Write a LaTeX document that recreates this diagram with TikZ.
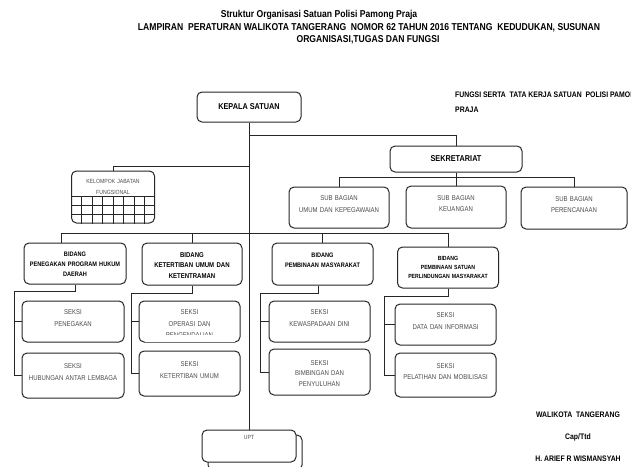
\documentclass[tikz,border=0pt]{standalone}
\usepackage{fontspec}
\setmainfont{Liberation Sans}[FakeStretch=0.86]
\usetikzlibrary{positioning,calc}

\begin{document}
\begin{tikzpicture}[x=1pt, y=-1pt,  % pixel grid, y downwards
  boxline/.style={draw=black!85, line width=1pt},
  link/.style={draw=black!85, line width=1pt},
  head/.style={boxline, rounded corners=5pt, font=\fontsize{8.5}{10}\selectfont\bfseries},
  box/.style={boxline, rounded corners=5pt, align=center, text width=94pt,
    inner xsep=1pt, inner ysep=2pt, text height=6pt, text depth=20pt},
  bidang/.style={box, font=\fontsize{6.5}{10}\selectfont\bfseries},
  seksi/.style={box, text=black!70, font=\fontsize{7}{11.5}\selectfont},
  jabatan/.style={boxline, rounded corners=5pt, align=center, text width=80pt,
    inner xsep=1pt, inner ysep=2pt, text height=5pt, text depth=33pt,
    text=black!70, font=\fontsize{6}{11}\selectfont},
  judul/.style={font=\fontsize{10}{12}\selectfont\bfseries},
  ttd/.style={font=\fontsize{8}{10}\selectfont\bfseries}]

  \path[use as bounding box, fill=white] (0,0) rectangle (631,466);

  % judul
  \node (judul) [judul] at (319,15) {Struktur Organisasi Satuan Polisi Pamong Praja};
  \node (lampiran) [judul] at (369,27.5) {LAMPIRAN~ PERATURAN WALIKOTA TANGERANG~ NOMOR 62 TAHUN 2016 TENTANG~ KEDUDUKAN, SUSUNAN};
  \node (lampiran2) [judul] at (368,40) {ORGANISASI,TUGAS DAN FUNGSI};
  \node (fungsi) [anchor=north west, inner sep=0pt, align=left, font=\fontsize{8}{15}\selectfont\bfseries]
    at (455,92) {FUNGSI SERTA~ TATA KERJA SATUAN~ POLISI PAMONG\\PRAJA};

  % pimpinan dan sekretariat
  \node (kepala) [head, minimum width=104pt, minimum height=30pt] at (249,107) {KEPALA SATUAN};
  \node (sekr) [head, minimum width=132pt, minimum height=26pt] at (456,159) {SEKRETARIAT};
  \node (sumum) [seksi, minimum width=100pt, minimum height=41pt] at (339,207.5) {SUB BAGIAN\\UMUM DAN KEPEGAWAIAN};
  \node (skeu) [seksi, minimum width=100pt, minimum height=42pt] at (456,207) {SUB BAGIAN\\KEUANGAN};
  \node (sren) [seksi, minimum width=106pt, minimum height=42pt] at (574,208) {SUB BAGIAN\\PERENCANAAN};
  \node (kjf) [jabatan, minimum width=83pt, minimum height=52pt] at (113,197) {KELOMPOK JABATAN\\FUNGSIONAL};

  % bidang
  \node (bpen) [bidang, minimum width=102pt, minimum height=41pt] at (75,263.5) {BIDANG\\PENEGAKAN PROGRAM HUKUM\\DAERAH};
  \node (bket) [bidang, minimum width=100pt, minimum height=42pt, font=\fontsize{7}{10.5}\selectfont\bfseries] at (192,264) {BIDANG\\KETERTIBAN UMUM DAN\\KETENTRAMAN};
  \node (bpm) [bidang, minimum width=101pt, minimum height=42pt] at (322.5,264) {BIDANG\\PEMBINAAN MASYARAKAT};
  \node (bpsm) [bidang, minimum width=101pt, minimum height=41pt, font=\fontsize{6}{9}\selectfont\bfseries] at (448,267.5) {BIDANG\\PEMBINAAN SATUAN\\PERLINDUNGAN MASYARAKAT};

  % seksi
  \node (spen) [seksi, minimum width=102pt, minimum height=41pt] at (73,321.5) {SEKSI\\PENEGAKAN};
  \node (shub) [seksi, minimum width=102pt, minimum height=45pt] at (73,375.5) {SEKSI\\HUBUNGAN ANTAR LEMBAGA};
  \node (sops) [seksi, minimum width=101pt, minimum height=41pt] at (189.5,321.5) {SEKSI\\OPERASI DAN\\PENGENDALIAN};
  \node (stib) [seksi, minimum width=101pt, minimum height=45pt] at (189.5,373.5) {SEKSI\\KETERTIBAN UMUM};
  \node (swas) [seksi, minimum width=101pt, minimum height=41pt] at (319.5,321.5) {SEKSI\\KEWASPADAAN DINI};
  \node (sbim) [seksi, minimum width=101pt, minimum height=46pt, font=\fontsize{7}{10.5}\selectfont] at (319.5,372) {SEKSI\\BIMBINGAN DAN\\PENYULUHAN};
  \node (sdat) [seksi, minimum width=101pt, minimum height=41pt] at (445.5,324.5) {SEKSI\\DATA DAN INFORMASI};
  \node (slat) [seksi, minimum width=101pt, minimum height=44pt] at (445.5,375) {SEKSI\\PELATIHAN DAN MOBILISASI};

  \draw[boxline, rounded corners=5pt, fill=white] (208,435) rectangle (302,470); % kotak belakang UPT
  \node (upt) [seksi, text width=80pt, minimum width=94pt, minimum height=32pt, fill=white,
    font=\fontsize{6}{8}\selectfont] at (249,446) {UPT};

  % tabel jabatan fungsional
  \foreach \c in {1,...,7}
    \draw[boxline] ($(kjf.south west)!\c/8!(kjf.south east)$) -- ++(0,-27);
  \foreach \r in {1,2,3}
    \draw[boxline] ($(kjf.south west)+(0,-9*\r)$) -- ($(kjf.south east)+(0,-9*\r)$);

  \fill[white] ([shift={(6pt,1pt)}]sops.south west) rectangle ([shift={(-6pt,8pt)}]sops.south east); % baris terpotong

  % garis
  \draw[link] (kepala.south) -- (upt.north);
  \draw[link] ([yshift=-13pt]kepala.south) -| (sekr.north);
  \draw[link] ([yshift=-44pt]kepala.south) -| (kjf.north);
  \draw[link] (sekr.south) -- (skeu.north);
  \draw[link] (sumum.north) -- ++(0,-9) -| (sren.north);
  \draw[link] ([xshift=-14pt]bpen.north) -- ++(0,-9) -| (bpsm.north);
  \draw[link] (bket.north) -- ++(0,-9);
  \draw[link] (bpm.north) -- ++(0,-9);

  \draw[link] (bpen.south) -- ++(0,7) -| ([xshift=-7pt]shub.west) -- (shub.west);
  \draw[link] ([xshift=-7pt]spen.west) -- (spen.west);
  \draw[link] (bket.south) -- ++(0,8) -| ([xshift=-7pt]stib.west) -- (stib.west);
  \draw[link] ([xshift=-7pt]sops.west) -- (sops.west);
  \draw[link] ([xshift=-4pt]bpm.south) -- ++(0,8) -| ([xshift=-8pt]sbim.west) -- (sbim.west);
  \draw[link] ([xshift=-8pt]swas.west) -- (swas.west);
  \draw[link] (bpsm.south) -- ++(0,8) -| ([xshift=-10pt]slat.west) -- (slat.west);
  \draw[link] ([xshift=-10pt]sdat.west) -- (sdat.west);

  % pengesahan
  \node (walikota) [ttd] at (578,415) {WALIKOTA~ TANGERANG};
  \node (cap) [ttd] at (578,437) {Cap/Ttd};
  \node (nama) [ttd] at (578,459) {H. ARIEF R WISMANSYAH};
\end{tikzpicture}
\end{document}
